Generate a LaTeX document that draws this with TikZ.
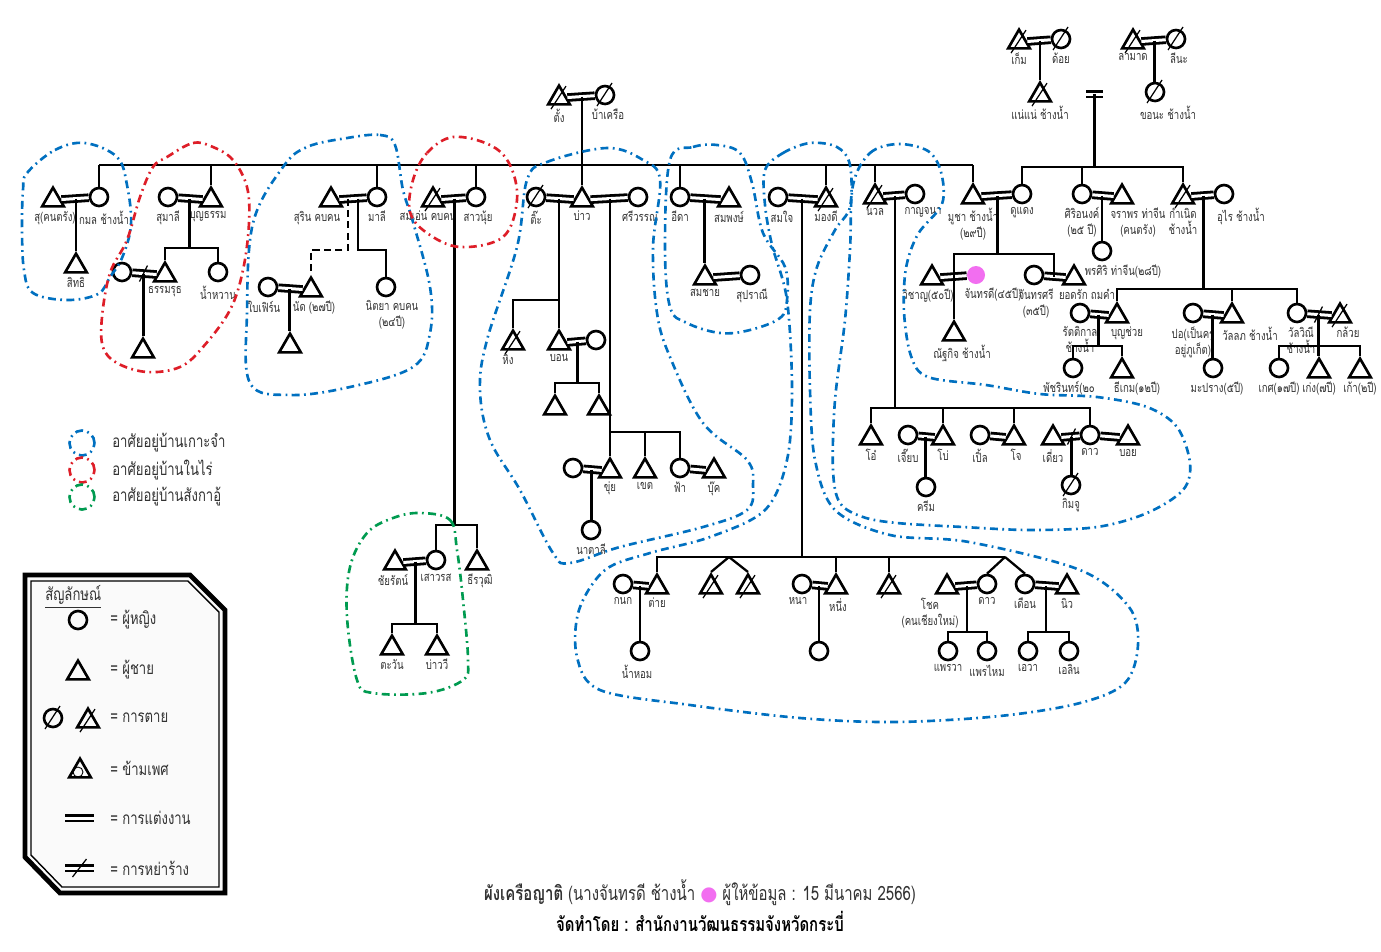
\documentclass[tikz,border=0pt]{standalone}
\usepackage{fontspec}
\setmainfont[Script=Thai,FakeStretch=0.76]{Loma}
\newfontfamily\dotfont{DejaVu Sans}
\usetikzlibrary{shapes.geometric, calc, positioning}
\definecolor{zblue}{RGB}{0,112,192}
\definecolor{zred}{RGB}{222,30,40}
\definecolor{zgreen}{RGB}{0,155,80}
\definecolor{pinkdot}{RGB}{242,110,240}
\definecolor{legfill}{RGB}{250,250,250}
\definecolor{txtgray}{RGB}{50,50,50}
\newcommand\namefont{\fontsize{7.2}{9}\selectfont}
\newcommand\legfont{\fontsize{9.8}{11}\selectfont}
\tikzset{
  fem/.style={circle, draw, line width=1.5pt, minimum size=0.36cm, inner sep=0pt},
  mal/.style={regular polygon, regular polygon sides=3, draw, line width=1.5pt,
    minimum size=0.5cm, inner sep=0pt, yshift=-0.062cm},
  dead/.style={append after command={([shift={(-8,11)}]\tikzlastnode.center)
    edge[deadslash] ([shift={(7,-12)}]\tikzlastnode.center)}},
  deadslash/.style={line width=0.7pt, draw=black},
  lbl/.style={font=\namefont, inner sep=0.5pt, align=center, text=txtgray},
  every label/.style={label distance=1.2pt},
  legtxt/.style={font=\legfont, inner sep=0pt, anchor=west, text=txtgray},
  kin/.style={line width=1.3pt},
  marry/.style={double, line width=1.6pt, double distance=1.7pt},
  zone/.style={line width=1.5pt, dash pattern=on 4.5pt off 2.5pt on 1pt off 2.5pt},
  pinkme/.style={circle, fill=pinkdot, minimum size=0.36cm, inner sep=0pt}
}

\begin{document}
\begin{tikzpicture}[x=0.02cm, y=-0.02cm]
  \fill[white] (0,0) rectangle (1381,951);
  \useasboundingbox (0,0) rectangle (1381,951);

  % bar levels
  \coordinate (mainbar) at (0,165);
  \coordinate (bar_r) at (0,167);

  % oldest couples
  \node[mal, dead, label={[lbl]below:ตั้ง}] (tang) at (559,95) {};
  \node[fem, dead, label={[lbl,xshift=0.06cm]below:บ้าเครือ}] (bakhruea) at (605,95) {};
  \node[mal, dead, label={[lbl]below:เก็ม}] (kem) at (1019,39) {};
  \node[fem, dead, label={[lbl]below:ด้อย}] (doi) at (1061,39) {};
  \node[mal, dead, label={[lbl]below:แน่แน่ ช้างน้ำ}] (namnae) at (1040,92) {};
  \node[mal, dead, label={[lbl]below:ลามาด}] (lamad) at (1133,39) {};
  \node[fem, dead, label={[lbl,xshift=0.06cm]below:ลีนะ}] (lina) at (1176,39) {};
  \node[fem, dead, label={[lbl,xshift=0.26cm]below:ขอนะ ช้างน้ำ}] (khona) at (1155,92) {};

  \draw[marry] (tang) -- (bakhruea);
  \coordinate (m_tb0) at ($(tang)!0.5!(bakhruea)$);
  \draw[marry] (kem) -- (doi);
  \coordinate (m_kd) at ($(kem)!0.5!(doi)$);
  \draw[kin] (m_kd) -- (m_kd |- namnae.north);
  \draw[marry] (lamad) -- (lina);
  \coordinate (m_ll) at ($(lamad)!0.5!(lina)$);
  \draw[kin] (m_ll) -- (m_ll |- khona.north);
  \coordinate (mk_a) at (1086,94);
  \coordinate (mk_b) at (1103,94);
  \coordinate (mk) at ($(mk_a)!0.5!(mk_b)$);
  \draw[marry] (mk_a) -- (mk_b);
  \draw[kin] (mk) -- (mk |- bar_r);

  % second generation, main bar
  \node[mal, label={[lbl,xshift=0.04cm]below:สุ(คนตรัง)}] (su) at (53,197) {};
  \node[fem, label={[lbl,xshift=0.1cm]below:กมล ช้างน้ำ}] (kamon) at (99,197) {};
  \node[fem, label={[lbl]below:สุมาลี}] (sumali) at (168,197) {};
  \node[mal, label={[lbl,xshift=-0.06cm]below:บุญธรรม}] (boontham) at (211,197) {};
  \node[mal, label={[lbl,xshift=-0.28cm]below:สุริน คบคน}] (surin) at (331,197) {};
  \node[fem, label={[lbl]below:มาลี}] (mali) at (377,197) {};
  \node[mal, dead, label={[lbl,xshift=-0.1cm]below:สมเอ่น คบคน}] (somen) at (433,197) {};
  \node[fem, label={[lbl,xshift=0.04cm]below:สาวนุ้ย}] (saonui) at (476,197) {};
  \node[fem, dead, label={[lbl]below:ติ๊ะ}] (ti) at (536,197) {};
  \node[mal, label={[lbl]below:บ่าว}] (bao) at (582,197) {};
  \node[fem, label={[lbl,xshift=0.04cm]below:ศรีวรรณ}] (sriwan) at (638,197) {};
  \node[fem, label={[lbl]below:อีดา}] (ida) at (680,197) {};
  \node[mal, label={[lbl]below:สมพงษ์}] (sompong) at (729,197) {};
  \node[fem, label={[lbl,xshift=0.08cm]below:สมใจ}] (somjai) at (778,197) {};
  \node[mal, dead, label={[lbl]below:มองดี}] (mongdee) at (826,197) {};
  \node[mal, dead, label={[lbl]below:นวล}] (nuan) at (875,194) {};
  \node[fem, label={[lbl,xshift=0.16cm]below:กาญจนา}] (kanjana) at (915,194) {};
  \node[mal, label={[lbl]below:มูชา ช้างน้ำ\\(๒๙ปี)}] (musha) at (973,194) {};
  \node[fem, label={[lbl]below:ดูแดง}] (doodaeng) at (1022,194) {};
  \node[fem, label={[lbl]below:ศิริอนงค์\\(๒๕ ปี)}] (sirianong) at (1082,194) {};
  \node[mal, label={[lbl,xshift=0.32cm]below:จราพร ท่าจีน\\(คนตรัง)}] (jaraporn) at (1122,194) {};
  \node[mal, dead, label={[lbl]below:กำเนิด\\ช้างน้ำ}] (kamnoed) at (1183,194) {};
  \node[fem, label={[lbl,xshift=0.34cm]below:อุไร ช้างน้ำ}] (urai) at (1224,194) {};

  \draw[kin] (kamon.north |- mainbar) -- (musha.north |- mainbar);
  \foreach \c in {kamon,boontham,mali,saonui,ida,mongdee,nuan,musha}
    \draw[kin] (\c.north) -- (\c.north |- mainbar);
  \draw[kin] (m_tb0) -- (m_tb0 |- bao.north);
  \draw[kin] (doodaeng.north) |- (kamnoed.north |- bar_r) -- (kamnoed.north);
  \draw[kin] (sirianong.north) -- (sirianong.north |- bar_r);

  % left families
  \node[mal, label={[lbl]below:สิทธิ}] (sitthi) at (76,263) {};
  \draw[marry] (su) -- (kamon);
  \coordinate (m_sk) at ($(su)!0.5!(kamon)$);
  \draw[kin] (m_sk) -- (m_sk |- sitthi.north);

  \coordinate (bar_bt) at (0,248);
  \node[fem] (exwife) at (122,272) {};
  \node[mal, label={[lbl]below:ธรรมรุธ}] (thammarut) at (165,272) {};
  \node[fem, label={[lbl]below:น้ำหวาน}] (namwan) at (218,272) {};
  \node[mal] (grandson) at (143,348) {};
  \draw[marry] (sumali) -- (boontham);
  \coordinate (m_bt) at ($(sumali)!0.5!(boontham)$);
  \draw[kin] (m_bt) -- (m_bt |- bar_bt);
  \draw[kin] (thammarut.north) |- (namwan.north |- bar_bt) -- (namwan.north);
  \draw[marry] (exwife) -- (thammarut);
  \coordinate (m_ex) at ($(exwife)!0.5!(thammarut)$);
  \draw[deadslash] ([shift={(-4,8)}]m_ex) -- ([shift={(4,-8)}]m_ex);
  \draw[kin] (m_ex) -- (m_ex |- grandson.north);

  \coordinate (bar_sm) at (0,250);
  \node[fem, label={[lbl,xshift=-0.08cm]below:ใบเฟิร์น}] (baifern) at (268,287) {};
  \node[mal, label={[lbl,xshift=0.06cm]below:นัด (๒๗ปี)}] (nat) at (311,287) {};
  \node[fem, label={[lbl,xshift=0.12cm]below:นิตยา คบคน\\(๒๔ปี)}] (nittaya) at (386,287) {};
  \node[mal] (natson) at (290,343) {};
  \draw[marry] (surin) -- (mali);
  \coordinate (m_sm) at ($(surin)!0.5!(mali)$);
  \draw[kin, dash pattern=on 4pt off 2.5pt] ([xshift=-0.12cm]m_sm) |- (nat.north |- bar_sm) -- (nat.north);
  \draw[kin] ([xshift=0.08cm]m_sm) |- (nittaya.north |- bar_sm) -- (nittaya.north);
  \draw[marry] (baifern) -- (nat);
  \coordinate (m_bn) at ($(baifern)!0.5!(nat)$);
  \draw[kin] (m_bn) -- (m_bn |- natson.north);

  % green branch
  \coordinate (bar_g) at (0,525);
  \coordinate (bar_t) at (0,624);
  \node[mal, label={[lbl,xshift=-0.04cm]below:ชัยรัตน์}] (chairat) at (395,560) {};
  \node[fem, label={[lbl]below:เสาวรส}] (saowarot) at (436,560) {};
  \node[mal, label={[lbl,xshift=0.06cm]below:ธีรวุฒิ}] (theerawut) at (477,560) {};
  \node[mal, label={[lbl]below:ตะวัน}] (tawan) at (392,645) {};
  \node[mal, label={[lbl]below:บ่าววี}] (baowee) at (437,645) {};
  \draw[marry] (somen) -- (saonui);
  \coordinate (m_ss) at ($(somen)!0.5!(saonui)$);
  \draw[kin] (m_ss) -- (m_ss |- bar_g);
  \draw[kin] (saowarot.north) |- (theerawut.north |- bar_g) -- (theerawut.north);
  \draw[marry] (chairat) -- (saowarot);
  \coordinate (m_cs) at ($(chairat)!0.5!(saowarot)$);
  \draw[kin] (m_cs) -- (m_cs |- bar_t);
  \draw[kin] (tawan.north) |- (baowee.north |- bar_t) -- (baowee.north);

  % bao's families
  \coordinate (bar_h) at (0,300);
  \coordinate (bar_bw) at (0,383);
  \coordinate (bar_k) at (0,432);
  \node[mal, dead, label={[lbl,xshift=-0.1cm]below:หิง}] (hing) at (513,340) {};
  \node[mal, label={[lbl]below:บอน}] (bon) at (559,340) {};
  \node[fem] (bonwife) at (596,340) {};
  \node[mal] (bonsonA) at (555,405) {};
  \node[mal] (bonsonB) at (599,405) {};
  \node[fem] (khuiwife) at (573,468) {};
  \node[mal, label={[lbl]below:ขุ่ย}] (khui) at (610,468) {};
  \node[mal, label={[lbl]below:เขต}] (khet) at (645,468) {};
  \node[fem, label={[lbl]below:ฟ้า}] (fa) at (680,468) {};
  \node[mal, label={[lbl]below:บุ๊ค}] (book) at (714,468) {};
  \node[fem, label={[lbl]below:นาตาลี}] (natalee) at (591,530) {};
  \draw[marry] (ti) -- (bao);
  \coordinate (m_tb) at ($(ti)!0.5!(bao)$);
  \draw[kin] (m_tb) -- (m_tb |- bon.north);
  \draw[kin] (hing.north) |- (m_tb |- bar_h);
  \draw[marry] (bon) -- (bonwife);
  \coordinate (m_bw) at ($(bon)!0.5!(bonwife)$);
  \draw[kin] (m_bw) -- (m_bw |- bar_bw);
  \draw[kin] (bonsonA.north) |- (bonsonB.north |- bar_bw) -- (bonsonB.north);
  \draw[marry] (bao) -- (sriwan);
  \coordinate (m_bs) at ($(bao)!0.5!(sriwan)$);
  \draw[kin] (m_bs) -- (m_bs |- bar_k);
  \draw[kin] (khui.north) |- (fa.north |- bar_k) -- (fa.north);
  \draw[kin] (khet.north) -- (khet.north |- bar_k);
  \draw[marry] (khuiwife) -- (khui);
  \coordinate (m_kk) at ($(khuiwife)!0.5!(khui)$);
  \draw[kin] (m_kk) -- (m_kk |- natalee.north);
  \draw[marry] (fa) -- (book);

  % ida
  \node[mal, label={[lbl]below:สมชาย}] (somchai) at (705,275) {};
  \node[fem, label={[lbl,xshift=0.04cm]below:สุปราณี}] (supranee) at (750,275) {};
  \draw[marry] (ida) -- (sompong);
  \coordinate (m_is) at ($(ida)!0.5!(sompong)$);
  \draw[kin] (m_is) -- (m_is |- somchai.north);
  \draw[marry] (somchai) -- (supranee);

  % somjai and mongdee, bottom row
  \coordinate (bar_b) at (0,557);
  \coordinate (bar_c) at (0,632);
  \coordinate (tw1) at (729,557);
  \coordinate (tw2) at (1005,557);
  \node[fem, label={[lbl]below:กนก}] (kanok) at (623,584) {};
  \node[mal, label={[lbl]below:ต่าย}] (tai) at (657,584) {};
  \node[fem, label={[lbl,xshift=-0.06cm]below:น้ำหอม}] (namhom) at (640,651) {};
  \node[mal, dead] (twinA) at (711,584) {};
  \node[mal, dead] (twinB) at (748,584) {};
  \node[fem, label={[lbl,xshift=-0.08cm]below:หนา}] (na) at (802,584) {};
  \node[mal, label={[lbl,xshift=0.04cm]below:หนึ่ง}] (nueng) at (836,584) {};
  \node[fem] (nuengchild) at (819,651) {};
  \node[mal, dead] (lonedead) at (889,584) {};
  \node[mal, label={[lbl,xshift=-0.34cm]below:โชค\\(คนเชียงใหม่)}] (chok) at (947,584) {};
  \node[fem, label={[lbl]below:ดาว}] (daoB) at (987,584) {};
  \node[fem, label={[lbl]below:เดือน}] (duean) at (1025,584) {};
  \node[mal, label={[lbl]below:นิว}] (niw) at (1067,584) {};
  \node[fem, label={[lbl]below:แพรวา}] (praewa) at (948,651) {};
  \node[fem, label={[lbl]below:แพรไหม}] (praemai) at (987,651) {};
  \node[fem, label={[lbl]below:เอวา}] (eva) at (1028,651) {};
  \node[fem, label={[lbl]below:เอลิน}] (elin) at (1069,651) {};
  \draw[marry] (somjai) -- (mongdee);
  \coordinate (m_sd) at ($(somjai)!0.5!(mongdee)$);
  \draw[kin] (m_sd) -- (m_sd |- bar_b);
  \draw[kin] (tai.north) |- (tw2);
  \draw[kin] (tw1) -- (twinA.north);
  \draw[kin] (tw1) -- (twinB.north);
  \draw[kin] (nueng.north) -- (nueng.north |- bar_b);
  \draw[kin] (lonedead.north) -- (lonedead.north |- bar_b);
  \draw[kin] (tw2) -- (daoB.north);
  \draw[kin] (tw2) -- (duean.north);
  \draw[marry] (kanok) -- (tai);
  \coordinate (m_kt) at ($(kanok)!0.5!(tai)$);
  \draw[kin] (m_kt) -- (m_kt |- namhom.north);
  \draw[marry] (na) -- (nueng);
  \coordinate (m_nn) at ($(na)!0.5!(nueng)$);
  \draw[kin] (m_nn) -- (m_nn |- nuengchild.north);
  \draw[marry] (chok) -- (daoB);
  \coordinate (m_cd) at ($(chok)!0.5!(daoB)$);
  \draw[kin] (m_cd) -- (m_cd |- bar_c);
  \draw[kin] (praewa.north) |- (praemai.north |- bar_c) -- (praemai.north);
  \draw[marry] (duean) -- (niw);
  \coordinate (m_dn) at ($(duean)!0.5!(niw)$);
  \draw[kin] (m_dn) -- (m_dn |- bar_c);
  \draw[kin] (eva.north) |- (elin.north |- bar_c) -- (elin.north);

  % nuan and kanjana
  \coordinate (bar_n) at (0,408);
  \node[mal, label={[lbl]below:โอ๋}] (oh) at (871,435) {};
  \node[fem, label={[lbl]below:เจี๊ยบ}] (jiab) at (908,435) {};
  \node[mal, label={[lbl]below:โบ่}] (bo) at (943,435) {};
  \node[fem, label={[lbl]below:ครีม}] (cream) at (926,487) {};
  \node[fem, label={[lbl]below:เปิ้ล}] (pen) at (980,435) {};
  \node[mal, label={[lbl,xshift=0.04cm]below:โจ}] (jo) at (1014,435) {};
  \node[mal, label={[lbl]below:เดี่ยว}] (diao) at (1053,435) {};
  \node[fem, label={[lbl]below:ดาว}] (daoA) at (1090,435) {};
  \node[mal, label={[lbl]below:บอย}] (boy) at (1128,435) {};
  \node[fem, dead, label={[lbl]below:กิมจู}] (kimju) at (1071,485) {};
  \draw[marry] (nuan) -- (kanjana);
  \coordinate (m_nk) at ($(nuan)!0.5!(kanjana)$);
  \draw[kin] (m_nk) -- (m_nk |- bar_n);
  \draw[kin] (oh.north) |- (daoA.north |- bar_n) -- (daoA.north);
  \draw[kin] (bo.north) -- (bo.north |- bar_n);
  \draw[kin] (jo.north) -- (jo.north |- bar_n);
  \draw[marry] (jiab) -- (bo);
  \coordinate (m_jb) at ($(jiab)!0.5!(bo)$);
  \draw[kin] (m_jb) -- (m_jb |- cream.north);
  \draw[marry] (pen) -- (jo);
  \draw[marry] (diao) -- (daoA);
  \coordinate (m_dd) at ($(diao)!0.5!(daoA)$);
  \draw[deadslash] ([shift={(-4,8)}]m_dd) -- ([shift={(4,-8)}]m_dd);
  \draw[kin] (m_dd) -- (m_dd |- kimju.north);
  \draw[marry] (daoA) -- (boy);

  % musha and doodaeng
  \coordinate (bar_m) at (0,254);
  \node[mal, label={[lbl,xshift=-0.08cm]below:วิชาญ(๕๐ปี)}] (wichan) at (932,275) {};
  \node[pinkme, label={[lbl,xshift=0.34cm]below:จันทรดี(๔๕ปี)}] (janthd) at (976,275) {};
  \node[mal, label={[lbl,xshift=0.16cm]below:ณัฐกิจ ช้างน้ำ}] (nattakit) at (954,331) {};
  \node[fem, label={[lbl,xshift=0.04cm]below:จันทรศรี\\(๓๕ปี)}] (janthsri) at (1034,275) {};
  \node[mal, label={[lbl,xshift=0.26cm]below:ยอดรัก ถมคำ}] (yodrak) at (1074,275) {};
  \draw[marry] (musha) -- (doodaeng);
  \coordinate (m_md) at ($(musha)!0.5!(doodaeng)$);
  \draw[kin] (m_md) -- (m_md |- bar_m);
  \draw[marry] (wichan) -- (janthd);
  \coordinate (m_wj) at ($(wichan)!0.5!(janthd)$);
  \draw[marry] (janthsri) -- (yodrak);
  \coordinate (m_jy) at ($(janthsri)!0.5!(yodrak)$);
  \draw[kin] (nattakit.north) |- (m_jy |- bar_m) -- (m_jy);

  % right families
  \coordinate (bar_w) at (0,289);
  \coordinate (bar_p) at (0,346);
  \node[fem, label={[lbl,xshift=0.42cm]below:พรศิริ ท่าจีน(๒๘ปี)}] (pornsiri) at (1102,251) {};
  \node[fem, label={[lbl]below:รัตติกาล\\ช้างน้ำ}] (rattikan) at (1080,313) {};
  \node[mal, label={[lbl,xshift=0.2cm]below:บุญช่วย}] (boonchuai) at (1117,313) {};
  \node[fem, label={[lbl]below:ปอ(เป็นครู\\อยู่ภูเก็ต)}] (por) at (1193,313) {};
  \node[mal, label={[lbl,xshift=0.36cm]below:วัลลภ ช้างน้ำ}] (wanlop) at (1232,313) {};
  \node[fem, label={[lbl,xshift=0.08cm]below:วัลวิณี\\ช้างน้ำ}] (wanwinee) at (1297,313) {};
  \node[mal, dead, label={[lbl,xshift=0.16cm]below:กล้วย}] (kluai) at (1340,313) {};
  \node[fem, label={[lbl,xshift=-0.08cm]below:พัชรินทร์(๒๐}] (patcharin) at (1073,368) {};
  \node[mal, label={[lbl,xshift=0.3cm]below:ธีเกม(๑๒ปี)}] (theekem) at (1122,368) {};
  \node[fem, label={[lbl,xshift=0.08cm]below:มะปราง(๕ปี)}] (maprang) at (1213,368) {};
  \node[fem, label={[lbl]below:เกศ(๑๗ปี)}] (ket) at (1279,368) {};
  \node[mal, label={[lbl]below:เก่ง(๗ปี)}] (keng) at (1319,368) {};
  \node[mal, label={[lbl]below:เก้า(๒ปี)}] (kao) at (1360,368) {};
  \draw[marry] (sirianong) -- (jaraporn);
  \coordinate (m_sj) at ($(sirianong)!0.5!(jaraporn)$);
  \draw[kin] (m_sj) -- (m_sj |- pornsiri.north);
  \draw[marry] (kamnoed) -- (urai);
  \coordinate (m_ku) at ($(kamnoed)!0.5!(urai)$);
  \draw[kin] (m_ku) -- (m_ku |- bar_w);
  \draw[kin] (boonchuai.north) |- (wanwinee.north |- bar_w) -- (wanwinee.north);
  \draw[kin] (wanlop.north) -- (wanlop.north |- bar_w);
  \draw[marry] (rattikan) -- (boonchuai);
  \coordinate (m_rb) at ($(rattikan)!0.5!(boonchuai)$);
  \draw[kin] (m_rb) -- (m_rb |- bar_p);
  \draw[kin] (patcharin.north) |- (theekem.north |- bar_p) -- (theekem.north);
  \draw[marry] (por) -- (wanlop);
  \coordinate (m_pw) at ($(por)!0.5!(wanlop)$);
  \draw[kin] (m_pw) -- (m_pw |- maprang.north);
  \draw[marry] (wanwinee) -- (kluai);
  \coordinate (m_wk) at ($(wanwinee)!0.5!(kluai)$);
  \draw[deadslash] ([shift={(-4,8)}]m_wk) -- ([shift={(4,-8)}]m_wk);
  \draw[kin] (m_wk) -- (m_wk |- keng.north);
  \draw[kin] (ket.north) |- (kao.north |- bar_p) -- (kao.north);

  % residence outlines
  \draw[zone, zblue] plot[smooth cycle, tension=0.6] coordinates {(27,173) (55,150) (85,143) (117,157) (127,185) (131,225) (122,258) (110,277) (98,294) (67,300) (33,293) (24,270) (22,230) (23,190)};
  \draw[zone, zred] plot[smooth cycle, tension=0.6] coordinates {(167,157) (193,143) (213,147) (233,160) (247,187) (249,223) (243,270) (230,310) (203,347) (180,367) (147,372) (117,363) (103,347) (102,317) (110,273) (127,240) (140,197) (153,167)};
  \draw[zone, zblue] plot[smooth cycle, tension=0.6] coordinates {(347,138) (380,135) (395,145) (403,190) (413,222) (430,287) (430,333) (413,367) (350,387) (290,395) (250,383) (247,313) (253,223) (283,167) (307,147)};
  \draw[zone, zred] plot[smooth cycle, tension=0.6] coordinates {(413,180) (427,153) (453,137) (490,145) (510,165) (517,200) (503,237) (460,247) (427,233) (410,212)};
  \draw[zone, zblue] plot[smooth cycle, tension=0.6] coordinates {(527,180) (547,162) (607,148) (643,160) (660,180) (653,247) (657,313) (670,357) (703,423) (747,460) (753,485) (747,510) (703,527) (620,547) (570,563) (553,553) (520,490) (490,440) (480,390) (487,340) (517,247)};
  \draw[zone, zblue] plot[smooth cycle, tension=0.6] coordinates {(670,160) (693,147) (717,145) (740,153) (752,183) (763,233) (785,267) (787,300) (780,318) (750,330) (720,333) (687,323) (670,307) (665,247)};
  \draw[zone, zblue] plot[smooth cycle, tension=0.55] coordinates {(765,170) (783,153) (810,143) (837,147) (850,165) (850,207) (835,230) (817,267) (810,310) (810,390) (815,460) (835,510) (890,535) (969,542) (1080,570) (1129,607) (1138,645) (1125,683) (1080,703) (1000,716) (895,722) (800,718) (690,705) (600,690) (577,657) (579,610) (605,570) (650,553) (710,537) (765,510) (787,460) (792,390) (787,300) (772,245) (765,205)};
  \draw[zone, zblue] plot[smooth cycle, tension=0.55] coordinates {(853,185) (870,153) (898,144) (928,151) (941,172) (942,204) (918,234) (906,268) (904,312) (911,356) (928,377) (986,385) (1040,394) (1097,397) (1147,407) (1177,427) (1190,463) (1183,490) (1147,513) (1097,527) (1030,530) (963,527) (897,523) (863,517) (840,503) (833,470) (835,400) (845,320) (850,250)};
  \draw[zone, zgreen] plot[smooth cycle, tension=0.6] coordinates {(420,513) (450,520) (457,550) (463,600) (468,660) (463,680) (427,693) (373,693) (357,680) (347,617) (350,567) (367,533) (393,518)};

  % residence key
  \node[circle, zone, draw=zblue, minimum size=0.5cm] (key_b) at (82,443) {};
  \node[circle, zone, draw=zred, minimum size=0.5cm] (key_r) at (82,470) {};
  \node[circle, zone, draw=zgreen, minimum size=0.5cm] (key_g) at (82,497) {};
  \node[legtxt] (key_bt) at (112,443) {อาศัยอยู่บ้านเกาะจำ};
  \node[legtxt] (key_rt) at (112,470) {อาศัยอยู่บ้านในไร่};
  \node[legtxt] (key_gt) at (112,497) {อาศัยอยู่บ้านสังกาอู้};

  % symbol legend
  \draw[line width=2.8pt, fill=legfill] (25,575) -- (190,575) -- (225,610) -- (225,893) -- (60,893) -- (25,857) -- cycle;
  \draw[line width=0.8pt] (31,581) -- (188,581) -- (219,612) -- (219,887) -- (62,887) -- (31,855) -- cycle;
  \node[legtxt] (leg_title) at (45,597) {\underline{สัญลักษณ์}};
  \node[fem] (leg_f) at (78,620) {};
  \node[legtxt] (leg_ft) at (110,620) {= ผู้หญิง};
  \node[mal] (leg_m) at (78,670) {};
  \node[legtxt] (leg_mt) at (110,670) {= ผู้ชาย};
  \node[fem, dead] (leg_df) at (53,718) {};
  \node[mal, dead] (leg_dm) at (88,718) {};
  \node[legtxt] (leg_dt) at (110,718) {= การตาย};
  \node[mal] (leg_x) at (80,768) {};
  \node[circle, draw, line width=0.5pt, minimum size=0.2cm, inner sep=0pt] (leg_xc) at (78,772) {};
  \node[legtxt] (leg_xt) at (110,768) {= ข้ามเพศ};
  \coordinate (leg_ma) at (65,818);
  \coordinate (leg_mb) at (94,818);
  \draw[marry] (leg_ma) -- (leg_mb);
  \node[legtxt] (leg_mrt) at (110,818) {= การแต่งงาน};
  \coordinate (leg_va) at (65,868);
  \coordinate (leg_vb) at (94,868);
  \coordinate (leg_vm) at ($(leg_va)!0.5!(leg_vb)$);
  \draw[marry] (leg_va) -- (leg_vb);
  \draw[deadslash] ([shift={(-7,9)}]leg_vm) -- ([shift={(7,-9)}]leg_vm);
  \node[legtxt] (leg_vt) at (110,868) {= การหย่าร้าง};

  % caption
  \node[font=\fontsize{11.2}{13}\selectfont, text=txtgray] (title) at (700,893) {\textbf{ผังเครือญาติ} (นางจันทรดี ช้างน้ำ {\color{pinkdot}\dotfont ●} ผู้ให้ข้อมูล : 15 มีนาคม 2566)};
  \node[font=\bfseries\fontsize{11.2}{13}\selectfont, text=black] (maker) at (700,921) {จัดทำโดย : สำนักงานวัฒนธรรมจังหวัดกระบี่};
\end{tikzpicture}
\end{document}
